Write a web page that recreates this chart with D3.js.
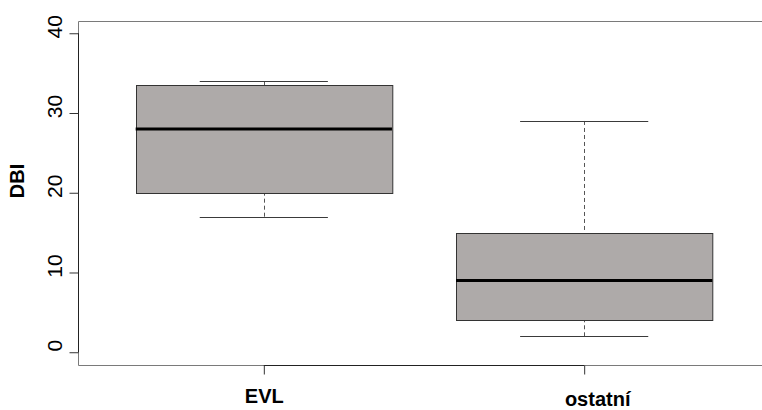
<!DOCTYPE html>
<html>
<head>
<meta charset="utf-8">
<script src="https://cdn.jsdelivr.net/npm/d3@7"></script>
<style>
  body { margin: 0; background: #fff; overflow: hidden; }
  svg { display: block; }
  text { font-family: "Liberation Sans", Arial, sans-serif; }
</style>
</head>
<body>
<svg id="chart" width="762" height="410"></svg>
<script>
// box stats per group
const groups = ["EVL", "ostatní"];
const whiskerLow = [17, 2];
const q1 = [20, 4];
const median = [28, 9];
const q3 = [33.5, 15];
const whiskerHigh = [34, 29];
const yTicks = [0, 10, 20, 30, 40];

const svg = d3.select("#chart");

// R-style positions 1..n, with 4% padding on the range
const x = d3.scaleLinear().domain([0.42, 2.58]).range([78, 770]);
const y = d3.scaleLinear().domain([-1.6, 41.6]).range([365, 20.5]);

const boxHalf = 0.4;
const capHalf = 0.2;

const rows = groups.map(function (g, i) {
  return {
    name: g,
    pos: i + 1,
    lo: whiskerLow[i],
    q1: q1[i],
    med: median[i],
    q3: q3[i],
    hi: whiskerHigh[i]
  };
});

// plot frame: the right side is cut off in the original, so only three sides
const fl = x(0.42) + 0.5, ft = Math.round(y(41.6)) + 0.5, fb = Math.round(y(-1.6)) + 0.5;
svg.append("line")
  .attr("x1", fl).attr("x2", 770).attr("y1", ft).attr("y2", ft)
  .attr("stroke", "#7a7a7a");
svg.append("line")
  .attr("x1", fl).attr("x2", 770).attr("y1", fb).attr("y2", fb)
  .attr("stroke", "#7a7a7a");
svg.append("line")
  .attr("x1", fl).attr("x2", fl).attr("y1", ft).attr("y2", fb)
  .attr("stroke", "#7a7a7a");

const box = svg.append("g").selectAll("g")
  .data(rows)
  .join("g");

// dashed whiskers
box.append("line")
  .attr("x1", d => Math.round(x(d.pos)) + 0.5)
  .attr("x2", d => Math.round(x(d.pos)) + 0.5)
  .attr("y1", d => y(d.hi))
  .attr("y2", d => y(d.q3))
  .attr("stroke", "#555")
  .attr("stroke-dasharray", "4,3");
box.append("line")
  .attr("x1", d => Math.round(x(d.pos)) + 0.5)
  .attr("x2", d => Math.round(x(d.pos)) + 0.5)
  .attr("y1", d => y(d.lo))
  .attr("y2", d => y(d.q1))
  .attr("stroke", "#555")
  .attr("stroke-dasharray", "4,3");

// whisker caps
["hi", "lo"].forEach(function (k) {
  box.append("line")
    .attr("x1", d => x(d.pos - capHalf))
    .attr("x2", d => x(d.pos + capHalf))
    .attr("y1", d => Math.round(y(d[k])) + 0.5)
    .attr("y2", d => Math.round(y(d[k])) + 0.5)
    .attr("stroke", "#3a3a3a");
});

box.append("rect")
  .attr("x", d => Math.round(x(d.pos - boxHalf)) + 0.5)
  .attr("y", d => Math.round(y(d.q3)) + 0.5)
  .attr("width", d => x(d.pos + boxHalf) - x(d.pos - boxHalf))
  .attr("height", d => Math.round(y(d.q1)) - Math.round(y(d.q3)))
  .attr("fill", "#aeaaa9")
  .attr("stroke", "#333");

box.append("line")
  .attr("x1", d => x(d.pos - boxHalf))
  .attr("x2", d => x(d.pos + boxHalf))
  .attr("y1", d => y(d.med))
  .attr("y2", d => y(d.med))
  .attr("stroke", "#000")
  .attr("stroke-width", 3);

// y axis
const yAxis = svg.append("g")
  .attr("transform", "translate(" + fl + ",0)")
  .call(d3.axisLeft(y).tickValues(yTicks).tickSize(9).tickSizeOuter(0).tickFormat(d3.format("d")));
yAxis.select(".domain")
  .attr("d", "M0," + y(0) + "V" + y(40))
  .attr("stroke", "#222");
yAxis.selectAll(".tick line").attr("stroke", "#333");
yAxis.selectAll(".tick text")
  .attr("x", null).attr("dy", null)
  .attr("text-anchor", "middle")
  .attr("transform", "translate(-17,-7) rotate(-90)")
  .style("font-size", "21px")
  .attr("fill", "#000")
  .attr("font-family", null);

// x axis
const xAxis = svg.append("g")
  .attr("transform", "translate(0," + fb + ")")
  .call(d3.axisBottom(x).tickValues(rows.map(d => d.pos)).tickSize(9).tickSizeOuter(0)
    .tickFormat((d, i) => groups[i]));
xAxis.select(".domain")
  .attr("d", "M" + x(1) + ",0H" + x(2))
  .attr("stroke", "#222");
xAxis.selectAll(".tick line").attr("stroke", "#333");
xAxis.selectAll(".tick text")
  .attr("y", 37).attr("dy", null)
  .attr("dx", (d, i) => i === 1 ? 13 : 0)
  .attr("transform", (d, i) => i === 1 ? "translate(0,3)" : null)
  .style("font-size", "20px")
  .style("font-weight", "bold")
  .attr("fill", "#000")
  .attr("font-family", null);

// y title
svg.append("text")
  .attr("transform", "translate(24," + 181 + ") rotate(-90)")
  .attr("text-anchor", "middle")
  .style("font-size", "20px")
  .style("font-weight", "bold")
  .text("DBI");
</script>
</body>
</html>
